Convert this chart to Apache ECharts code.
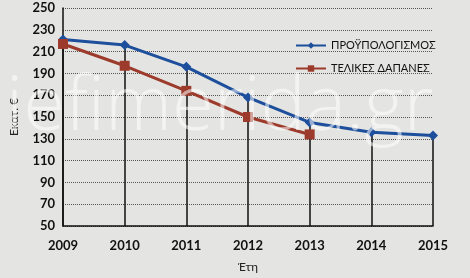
<!DOCTYPE html>
<html>
<head>
    <meta charset="utf-8" />
    <script src="https://cdn.jsdelivr.net/npm/echarts@6/dist/echarts.min.js"></script>
    <style type="text/css">
        html,
        body {
            width: 100%;
            height: 100%;
            margin: 0;
            background: #e4e4e2;
        }

        #main {
            width: 470px;
            height: 278px;
        }
    </style>
</head>

<body>
    <div id="main"></div>
    <script>
        var years = ['2009', '2010', '2011', '2012', '2013', '2014', '2015'];
        var budget = [221, 216, 196, 168, 145, 136, 133];
        var spending = [217, 197, 174, 150, 134];
        var budgetName = 'ΠΡΟΫΠΟΛΟΓΙΣΜΟΣ';
        var spendingName = 'ΤΕΛΙΚΕΣ ΔΑΠΑΝΕΣ';

        var yMin = 50;
        // κάθετες γραμμές από τον άξονα ως το ψηλότερο σημείο κάθε έτους
        var dropLines = years.map(function (y, i) {
            var top = Math.max(budget[i], spending[i] || 0);
            return [{ coord: [i, yMin] }, { coord: [i, top] }];
        });

        var myChart = echarts.init(document.getElementById('main'));
        var option = {
            backgroundColor: '#e4e4e2',
            textStyle: { fontFamily: 'Lato' },
            grid: { left: 57, right: 37, top: 8, bottom: 52 },
            legend: {
                orient: 'vertical',
                left: 290,
                top: 35,
                itemWidth: 30,
                itemHeight: 8,
                itemGap: 12,
                textStyle: { color: '#111', fontSize: 11, fontFamily: 'Lato' },
                data: [budgetName, spendingName]
            },
            xAxis: {
                type: 'category',
                data: years,
                boundaryGap: false,
                name: 'Έτη',
                nameLocation: 'middle',
                nameGap: 35,
                nameTextStyle: { color: '#222', fontSize: 12 },
                axisLine: { lineStyle: { color: '#111', width: 1.5 } },
                axisTick: { show: false },
                axisLabel: { color: '#111', fontWeight: 'bold', fontSize: 13, margin: 13 }
            },
            yAxis: {
                type: 'value',
                min: yMin,
                max: 250,
                interval: 20,
                name: 'Εκατ. €',
                nameLocation: 'middle',
                nameGap: 43,
                nameTextStyle: { color: '#222', fontSize: 12 },
                axisLine: { show: true, lineStyle: { color: '#111', width: 1.5 } },
                axisTick: { show: false },
                axisLabel: { color: '#111', fontWeight: 'bold', fontSize: 13, margin: 8 },
                splitLine: { lineStyle: { color: '#555', type: 'dotted', width: 1 } }
            },
            series: [
                {
                    name: budgetName,
                    type: 'line',
                    data: budget,
                    symbol: 'diamond',
                    symbolSize: 10,
                    itemStyle: { color: '#1d4f9c' },
                    lineStyle: { color: '#1d4f9c', width: 3 },
                    z: 3,
                    markLine: {
                        silent: true,
                        symbol: 'none',
                        label: { show: false },
                        lineStyle: { color: '#111', type: 'solid', width: 1.5 },
                        data: dropLines,
                        z: 1
                    }
                },
                {
                    name: spendingName,
                    type: 'line',
                    data: spending,
                    symbol: 'rect',
                    symbolSize: 10,
                    itemStyle: { color: '#9c3a2b' },
                    lineStyle: { color: '#9c3a2b', width: 3 },
                    z: 3
                }
            ],
            graphic: [
                {
                    type: 'text',
                    left: 6,
                    top: 70,
                    z: 100,
                    silent: true,
                    style: {
                        text: 'iefimerida.gr',
                        fontFamily: 'Open Sans',
                        fontWeight: 300,
                        fontSize: 76,
                        fill: 'rgba(255,255,255,0.55)'
                    }
                }
            ]
        };
        myChart.setOption(option);
    </script>
</body>
</html>
